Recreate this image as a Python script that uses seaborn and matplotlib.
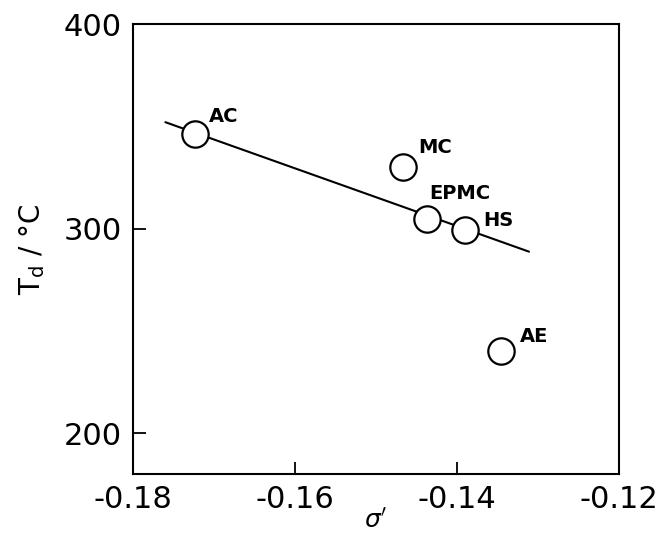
import matplotlib.pyplot as plt
import pandas as pd
import seaborn as sns

# Data
labels = ["AC", "MC", "EPMC", "HS", "AE"]
sigma = [-0.1723, -0.1467, -0.1437, -0.1390, -0.1345]
td = [346, 330, 304.5, 299.5, 240]

# fitted line end points
fit_x = [-0.176, -0.1311]
fit_y = [352, 288.7]

# label offsets in points (dx, dy)
offsets = [(10, 6), (11, 7), (2, 12), (13, 0), (13, 4)]

df = pd.DataFrame({"sigma": sigma, "td": td, "label": labels})
df_fit = pd.DataFrame({"x": fit_x, "y": fit_y})

sns.set_style("ticks")
plt.rcParams["font.family"] = ["DejaVu Sans"]
plt.rcParams["axes.unicode_minus"] = False
for key in ["text.color", "axes.labelcolor", "xtick.color", "ytick.color"]:
    plt.rcParams[key] = "black"

fig = plt.figure(figsize=(6.57, 5.37), dpi=100)
ax = fig.add_axes([0.2024, 0.1173, 0.7396, 0.838])

sns.lineplot(data=df_fit, x="x", y="y", color="black", linewidth=1.5, ax=ax)
sns.scatterplot(data=df, x="sigma", y="td", s=360, facecolor="white",
                edgecolor="black", linewidth=1.6, zorder=3, ax=ax)

for lab, x, y, (dx, dy) in zip(labels, sigma, td, offsets):
    ax.annotate(lab, (x, y), xytext=(dx, dy), textcoords="offset points",
                ha="left", va="bottom", fontsize=14, fontweight="bold",
                color="black")

ax.set_xlim(-0.18, -0.12)
ax.set_ylim(180, 400)
ax.set_xticks([-0.18, -0.16, -0.14, -0.12])
ax.set_xticklabels(["-0.18", "-0.16", "-0.14", "-0.12"])
ax.set_yticks([200, 300, 400])
ax.tick_params(direction="in", length=9, width=1.3, labelsize=22, pad=8,
               top=False, right=False, colors="black")

for sp in ax.spines.values():
    sp.set_visible(True)
    sp.set_linewidth(1.5)
    sp.set_color("black")

ax.set_xlabel(r"$\sigma'$", fontsize=18, labelpad=-4)
ax.set_ylabel(r"T$_{\rm d}$ / °C", fontsize=20, labelpad=12)

fig.savefig("out.png", dpi=100)
